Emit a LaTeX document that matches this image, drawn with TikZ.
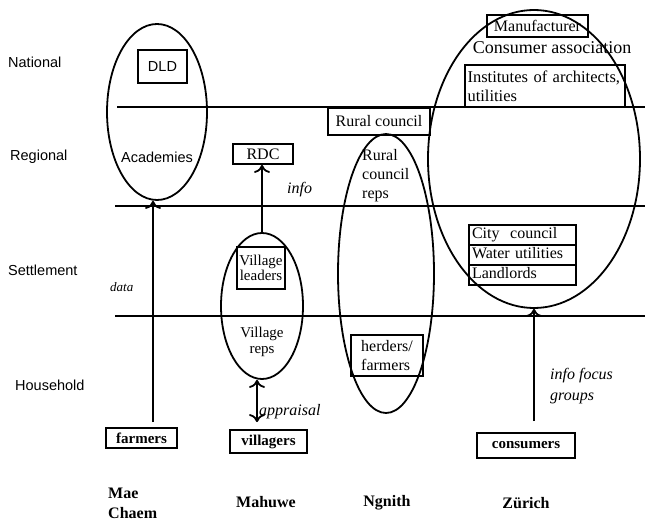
\documentclass[tikz,border=0pt]{standalone}
\usepackage{fontspec}
\setmainfont{Liberation Serif}
\setsansfont{Liberation Sans}
\usetikzlibrary{arrows.meta,shapes.geometric}
\begin{document}
\begin{tikzpicture}[x=1pt,y=-1pt,
  lvl/.style={font=\sffamily\fontsize{14.5}{16}\selectfont, anchor=west, inner sep=0pt},
  sanstxt/.style={font=\sffamily\fontsize{14.5}{16}\selectfont, inner sep=0pt},
  txt/.style={font=\fontsize{16}{19}\selectfont, inner sep=0pt},
  bx/.style={draw, line width=1.8pt, inner sep=2pt, font=\fontsize{16}{17}\selectfont},
  row/.style={bx, text width=101pt, align=left, inner xsep=3pt, inner ysep=3pt, text height=11pt, text depth=3pt},
  bbx/.style={draw, line width=1.8pt, inner sep=0pt, font=\bfseries\fontsize{15}{17}\selectfont},
  oval/.style={draw, ellipse, line width=1.8pt, inner sep=0pt},
  hline/.style={line width=1.8pt},
  lab/.style={font=\itshape\fontsize{16}{21}\selectfont, inner sep=0pt, anchor=west},
  place/.style={font=\bfseries\fontsize{16}{20}\selectfont, inner sep=0pt},
  arr/.style={line width=1.8pt, -{Computer Modern Rightarrow[length=8pt,width=16pt]}},
  darr/.style={line width=1.8pt, {Computer Modern Rightarrow[length=8pt,width=16pt]}-{Computer Modern Rightarrow[length=8pt,width=16pt]}}
]
\useasboundingbox (0,0) rectangle (645,521);

% level lines
\draw[hline] (117,107) -- (645,107);
\draw[hline] (115,206) -- (645,206);
\draw[hline] (115,316) -- (645,316);

% ellipses
\node[oval, minimum width=100pt, minimum height=176pt] (e1) at (157,112) {};
\node[oval, minimum width=82pt, minimum height=146pt] (e2) at (262,306) {};
\node[oval, minimum width=96pt, minimum height=279pt] (e3) at (386,273.5) {};
\node[oval, minimum width=212pt, minimum height=298pt] (e4) at (534,159) {};

% level labels
\node[lvl] (nat) at (8,62) {National};
\node[lvl] (reg) at (10,157) {Regional};
\node[lvl] (set) at (8,270) {Settlement};
\node[lvl] (hh) at (15,385) {Household};

% Mae Chaem
\node[bx, font=\sffamily\fontsize{14.5}{16}\selectfont, minimum width=49pt, minimum height=33pt] (dld) at (162.5,66.5) {DLD};
\node[sanstxt] (acad) at (157,157) {Academies};
\node[bbx, minimum width=71pt, minimum height=20pt] (farmers) at (141.5,438) {farmers};
\node[lab, font=\itshape\fontsize{13}{14}\selectfont] (data) at (110,287) {data};

% Mahuwe
\node[bx, minimum width=60pt, minimum height=20pt] (rdc) at (263,154) {RDC};
\node[bx, font=\fontsize{15}{15}\selectfont, minimum width=48pt, minimum height=42pt, align=center, inner sep=0pt] (vl) at (261,268) {Village\\leaders};
\node[txt, align=center, font=\fontsize{15}{16}\selectfont] (vr) at (262,342) {Village\\reps};
\node[bbx, minimum width=77pt, minimum height=23pt] (villagers) at (268.5,441.5) {villagers};
\node[lab] (info) at (287,190) {info};
\node[lab] (appr) at (259,412) {appraisal};

% Ngnith
\node[bx, minimum width=102pt, minimum height=27pt] (rc) at (379,121.5) {Rural council};
\node[txt, align=left, anchor=west] (rcr) at (362,176) {Rural\\council\\reps};
\node[bx, font=\fontsize{16}{19}\selectfont, minimum width=72pt, minimum height=41pt, align=left, inner sep=0pt] (hf) at (387,355.5) {herders/\\farmers};

% Zurich
\node[bx, minimum width=101pt, minimum height=22pt] (man) at (537.5,26) {Manufacturer};
\node[txt, font=\fontsize{18}{19}\selectfont] (ca) at (552,48) {Consumer association};
\node[bx, text width=155pt, align=left, inner xsep=2.5pt, inner ysep=1pt, minimum height=42pt, font=\fontsize{16.5}{19}\selectfont] (inst) at (545,86) {Institutes of architects,\\utilities};
\node[row] (cc) at (522.5,235) {City\ \ council};
\node[row] (wu) at (522.5,255) {Water utilities};
\node[row] (ll) at (522.5,275) {Landlords};
\node[bbx, minimum width=98pt, minimum height=25pt] (consumers) at (526,445.5) {consumers};
\node[lab, align=left] (ifg) at (550,386) {info focus\\groups};

% place names
\node[place, align=left, anchor=west] (mae) at (108,503) {Mae\\Chaem};
\node[place] (mah) at (266,502) {Mahuwe};
\node[place] (ngn) at (387,503) {Ngnith};
\node[place] (zur) at (526,503) {Zürich};

% connectors
\draw[arr, shorten <=5pt] ([xshift=-4pt]e1.south |- farmers.north) -- ([xshift=-4pt]e1.south);
\draw[arr] (e2.north) -- (e2.north |- rdc.south);
\draw[darr, shorten >=7pt] ([xshift=-5pt]e2.south) -- ([xshift=-5pt]e2.south |- villagers.north);
\draw[arr, shorten <=11pt] (e4.south |- consumers.north) -- (e4.south);
\end{tikzpicture}
\end{document}
